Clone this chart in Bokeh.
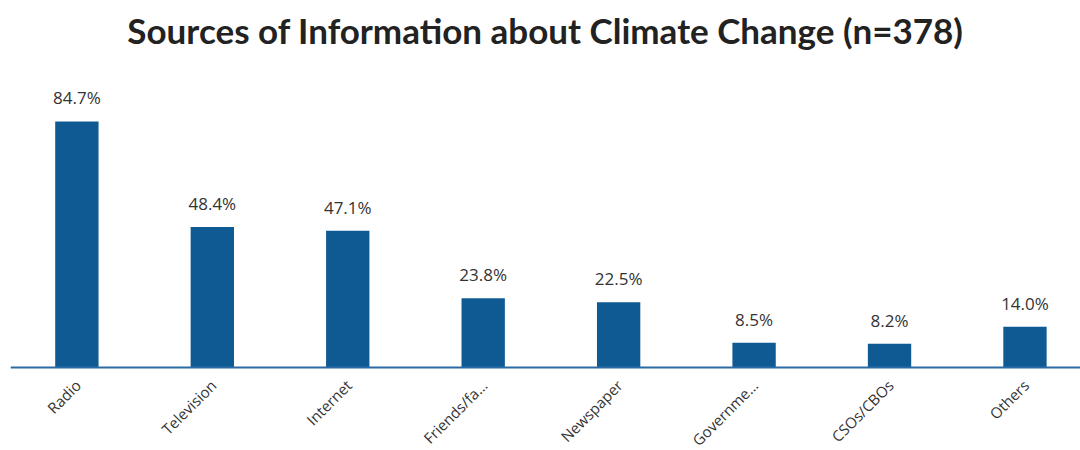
from bokeh.plotting import figure
from bokeh.models import Range1d, ColumnDataSource, Span, Label
from bokeh.core.properties import value
from bokeh.embed import file_html
from bokeh.resources import INLINE
import math

# Survey results
categories = ["Radio", "Television", "Internet", "Friends/fa…", "Newspaper",
              "Governme…", "CSOs/CBOs", "Others"]
shares = [84.7, 48.4, 47.1, 23.8, 22.5, 8.5, 8.2, 14.0]
share_labels = ["84.7%", "48.4%", "47.1%", "23.8%", "22.5%", "8.5%", "8.2%", "14.0%"]
title_text = "Sources of Information about Climate Change (n=378)"

BAR = "#0f5a93"
TEXT = "#333333"

# canvas geometry: the plotting frame fills the page, baseline near the bottom
W, H = 1080, 450
LEFT = 10
BASE_PX = 367          # screen row of the zero line
PX_PER_PCT = 2.905
X0, X1 = -0.49, 7.41
Y0 = -(H - BASE_PX) / PX_PER_PCT
Y1 = BASE_PX / PX_PER_PCT

xs = list(range(len(categories)))
src = ColumnDataSource(dict(x=xs, top=shares, lab=share_labels,
                            base=[0] * len(xs), cat=categories))

p = figure(width=W, height=H, output_backend="svg", toolbar_location=None,
           x_range=Range1d(X0, X1), y_range=Range1d(Y0, Y1),
           x_axis_location=None, y_axis_location=None,
           min_border_left=LEFT, min_border_right=0,
           min_border_bottom=0, min_border_top=0)
p.grid.visible = False
p.outline_line_color = None

p.vbar(x="x", top="top", bottom=0, width=0.32, source=src,
       fill_color=BAR, line_color=None)

# baseline
p.add_layout(Span(location=0, dimension="width", line_color="#2a6aa5",
                  line_width=2))

# value labels above each bar
p.text(x="x", y="top", text="lab", source=src,
       text_align="center", text_baseline="bottom", y_offset=-12,
       text_font=value("Open Sans"), text_font_size="17px", text_color=TEXT)

# rotated category labels under the baseline
p.text(x="x", y="base", text="cat", source=src,
       angle=math.pi / 4, text_align="right", text_baseline="middle",
       x_offset=1, y_offset=15,
       text_font=value("Open Sans"), text_font_size="15px", text_color=TEXT)

# chart title
p.add_layout(Label(x=(X0 + X1) / 2, y=Y1 - 29 / PX_PER_PCT, text=title_text,
                   text_align="center", text_baseline="alphabetic",
                   text_font="Lato", text_font_style="bold",
                   text_font_size="35px", text_color="#222222"))

open("out.html", "w").write(file_html(p, INLINE))
